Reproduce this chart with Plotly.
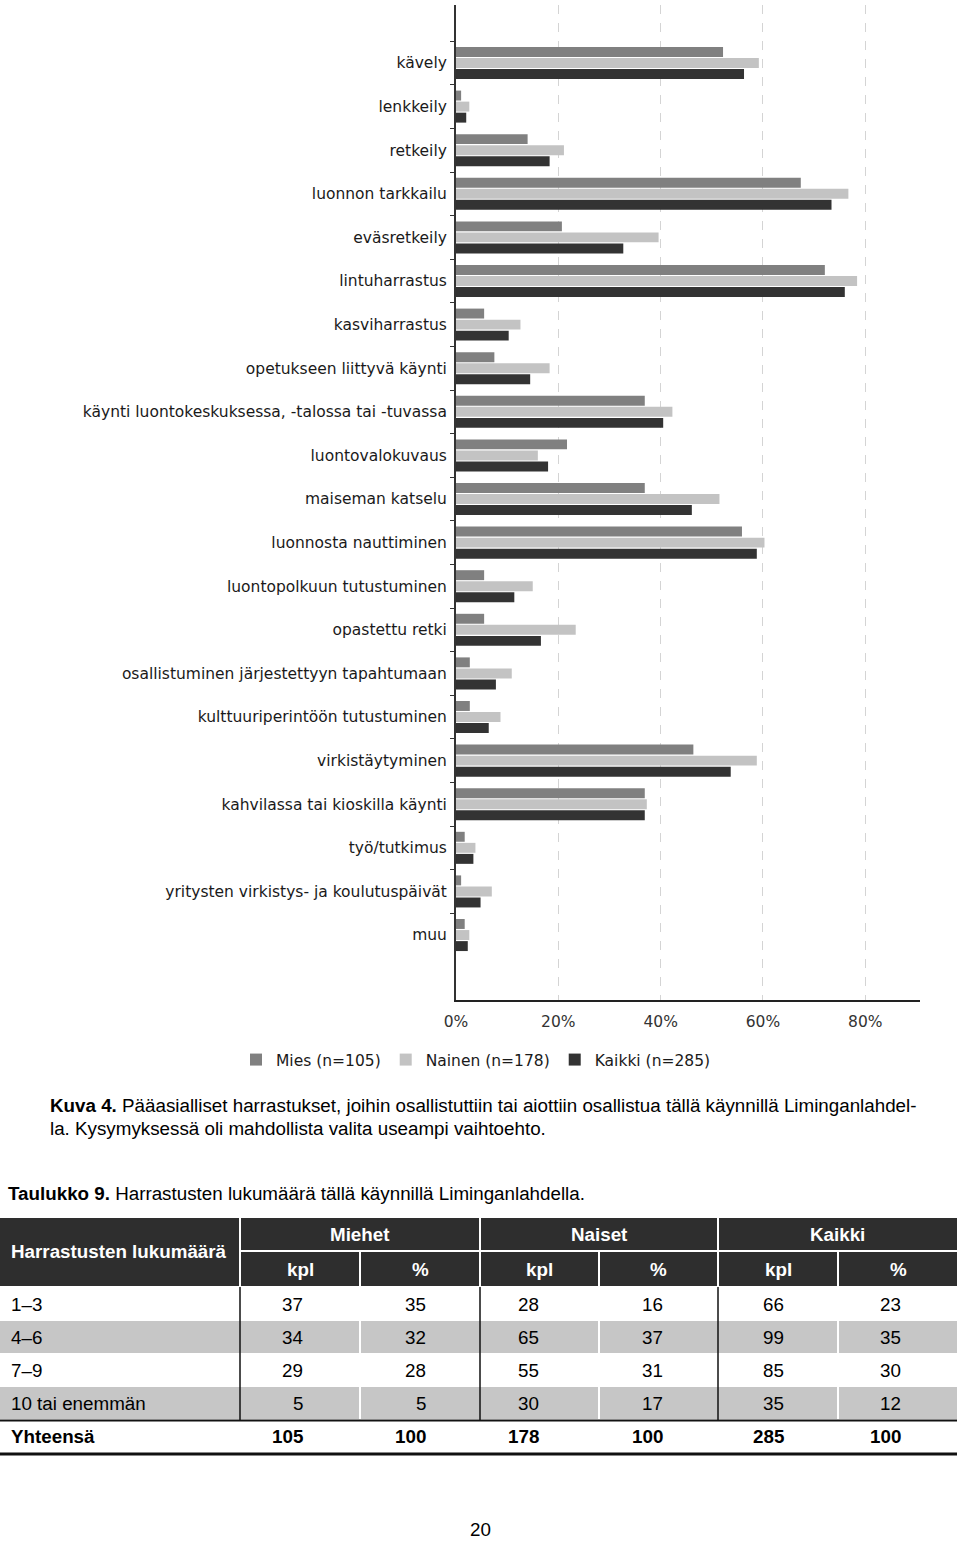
import plotly.graph_objects as go

# ---------------- data ----------------
categories = [
    "kävely", "lenkkeily", "retkeily", "luonnon tarkkailu", "eväsretkeily",
    "lintuharrastus", "kasviharrastus", "opetukseen liittyvä käynti",
    "käynti luontokeskuksessa, -talossa tai -tuvassa", "luontovalokuvaus",
    "maiseman katselu", "luonnosta nauttiminen", "luontopolkuun tutustuminen",
    "opastettu retki", "osallistuminen järjestettyyn tapahtumaan",
    "kulttuuriperintöön tutustuminen", "virkistäytyminen",
    "kahvilassa tai kioskilla käynti", "työ/tutkimus",
    "yritysten virkistys- ja koulutuspäivät", "muu",
]
mies = [52.2, 1.0, 14.0, 67.4, 20.7, 72.1, 5.5, 7.5, 36.9, 21.7, 36.9,
        55.9, 5.5, 5.5, 2.7, 2.7, 46.4, 36.9, 1.7, 1.0, 1.7]
nainen = [59.2, 2.6, 21.1, 76.7, 39.6, 78.4, 12.6, 18.3, 42.3, 16.0, 51.5,
          60.3, 15.0, 23.4, 10.9, 8.7, 58.8, 37.3, 3.8, 7.0, 2.6]
kaikki = [56.3, 2.0, 18.3, 73.4, 32.7, 76.0, 10.3, 14.5, 40.5, 18.0, 46.1,
          58.8, 11.4, 16.6, 7.8, 6.4, 53.7, 36.9, 3.4, 4.8, 2.3]
series_names = ["Mies (n=105)", "Nainen (n=178)", "Kaikki (n=285)"]
x_ticks = [0, 20, 40, 60, 80]
x_tick_labels = ["0%", "20%", "40%", "60%", "80%"]

caption_bold = "Kuva 4."
caption_line1 = " Pääasialliset harrastukset, joihin osallistuttiin tai aiottiin osallistua tällä käynnillä Liminganlahdel-"
caption_line2 = "la. Kysymyksessä oli mahdollista valita useampi vaihtoehto."
table_title_bold = "Taulukko 9."
table_title = " Harrastusten lukumäärä tällä käynnillä Liminganlahdella."

table_corner = "Harrastusten lukumäärä"
table_groups = ["Miehet", "Naiset", "Kaikki"]
table_subheads = ["kpl", "%"]
row_labels = ["1–3", "4–6", "7–9", "10 tai enemmän"]
miehet_kpl = [37, 34, 29, 5]
miehet_pct = [35, 32, 28, 5]
naiset_kpl = [28, 65, 55, 30]
naiset_pct = [16, 37, 31, 17]
kaikki_kpl = [66, 99, 85, 35]
kaikki_pct = [23, 35, 30, 12]
total_label = "Yhteensä"
totals = [105, 100, 178, 100, 285, 100]
page_number = "20"

# ---------------- figure ----------------
W, H = 960, 1541
def px(x):
    return x / W
def py(y):
    return 1 - y / H

colors = ["#808080", "#c3c3c3", "#333333"]
fig = go.Figure()
for name, vals, col in zip(series_names, [mies, nainen, kaikki], colors):
    fig.add_trace(go.Bar(
        y=categories, x=vals, name=name, orientation="h",
        marker=dict(color=col, line=dict(width=0)),
        hoverinfo="skip",
    ))

chart_font = "DejaVu Sans"
fig.update_layout(
    template="none",
    width=W, height=H,
    margin=dict(l=0, r=0, t=0, b=0, autoexpand=False),
    paper_bgcolor="white", plot_bgcolor="white",
    barmode="group", bargap=0.24, bargroupgap=0.1,
    font=dict(family=chart_font, size=15.5, color="#1a1a1a"),
    showlegend=True,
    legend=dict(
        orientation="h", x=px(236), y=py(1060), xanchor="left", yanchor="middle",
        font=dict(family=chart_font, size=15.5, color="#1a1a1a"),
        itemwidth=30, traceorder="normal", bgcolor="rgba(0,0,0,0)",
    ),
    xaxis=dict(
        domain=[px(456), px(920)], range=[0, 90.7], automargin=False,
        tickvals=x_ticks, ticktext=x_tick_labels,
        showgrid=True, gridcolor="#d4d4d4", griddash="dash", gridwidth=1,
        zeroline=False, showline=True, linecolor="#222222", linewidth=2,
        ticks="", ticklabelstandoff=6,
        tickfont=dict(family=chart_font, size=15.5, color="#333333"),
        fixedrange=True,
    ),
    yaxis=dict(
        domain=[py(1000), py(5)], range=[21.49, -1.33], automargin=False,
        type="category", showgrid=False, zeroline=False,
        showline=True, linecolor="#333333", linewidth=2,
        ticks="outside", ticklen=4, tickcolor="#333333", tickson="boundaries",
        ticklabelstandoff=4,
        tickfont=dict(family=chart_font, size=15.5, color="#1a1a1a"),
        fixedrange=True,
    ),
)

text_font = "Liberation Sans"
FS = 18.8
annotations = []
shapes = []

def add_text(x, y, text, anchor="left", size=FS, color="#000000", bold=False):
    t = f"<b>{text}</b>" if bold else text
    annotations.append(dict(
        x=px(x), y=py(y), xref="paper", yref="paper", text=t, showarrow=False,
        xanchor=anchor, yanchor="middle",
        font=dict(family=text_font, size=size, color=color),
    ))

def add_rect(x0, y0, x1, y1, color):
    shapes.append(dict(type="rect", xref="paper", yref="paper",
                       x0=px(x0), x1=px(x1), y0=py(y1), y1=py(y0),
                       fillcolor=color, line=dict(width=0), layer="below"))

def add_line(x0, y0, x1, y1, color="#000000", width=1.5):
    shapes.append(dict(type="line", xref="paper", yref="paper",
                       x0=px(x0), x1=px(x1), y0=py(y0), y1=py(y1),
                       line=dict(color=color, width=width)))

# caption
add_text(48, 1105, f"<b>{caption_bold}</b>{caption_line1}")
add_text(48, 1128, caption_line2)
add_text(6, 1193, f"<b>{table_title_bold}</b>{table_title}")

# table header
dark = "#2e2e2e"
col_edges = [0, 240, 360, 480, 599, 718, 838, 957]
add_rect(col_edges[0], 1218, col_edges[1] - 1, 1286, dark)
for g in range(3):
    xa = col_edges[1 + 2 * g] + 1
    xb = col_edges[3 + 2 * g] - 1
    add_rect(xa, 1218, xb + (1 if g == 2 else 0), 1250, dark)
    add_text((xa + xb) / 2, 1234, table_groups[g], anchor="center", color="white", bold=True)
for c in range(6):
    xa = col_edges[1 + c] + 1
    xb = col_edges[2 + c] - 1 + (1 if c == 5 else 0)
    add_rect(xa, 1252, xb, 1286, dark)
    add_text((xa + xb) / 2, 1269, table_subheads[c % 2], anchor="center", color="white", bold=True)
add_text(9, 1251, table_corner, color="white", bold=True)

# table body
row_centers = [1304, 1337, 1370, 1403]
row_tops = [1287, 1321, 1354, 1387]
row_bottoms = [1320, 1353, 1386, 1419]
right_edges = [305, 428, 541, 665, 786, 903]
gray = "#c6c6c6"
columns = [miehet_kpl, miehet_pct, naiset_kpl, naiset_pct, kaikki_kpl, kaikki_pct]
for r in range(len(row_labels)):
    if r % 2 == 1:
        add_rect(0, row_tops[r], 957, row_bottoms[r], gray)
        for xe in (360, 599, 838):
            add_line(xe, row_tops[r], xe, row_bottoms[r], color="white", width=2)
    add_text(9, row_centers[r], row_labels[r])
    for c, col in enumerate(columns):
        add_text(right_edges[c], row_centers[r], str(col[r]), anchor="right")

for xe in (240, 480, 718):
    add_line(xe, 1287, xe, 1420, color="#111111", width=1.5)
add_line(0, 1420.5, 957, 1420.5, color="#111111", width=2)
add_text(9, 1436, total_label, bold=True)
for c, v in enumerate(totals):
    add_text(right_edges[c], 1436, str(v), anchor="right", bold=True)
add_line(0, 1454, 957, 1454, color="#111111", width=3)

add_text(480, 1529, page_number, anchor="center")

fig.update_layout(annotations=annotations, shapes=shapes)
fig.write_html(
    "out.html",
    config={"displayModeBar": False},
    post_script="document.body.style.margin='0';document.body.style.padding='0';"
                "document.body.style.overflow='hidden';",
)
